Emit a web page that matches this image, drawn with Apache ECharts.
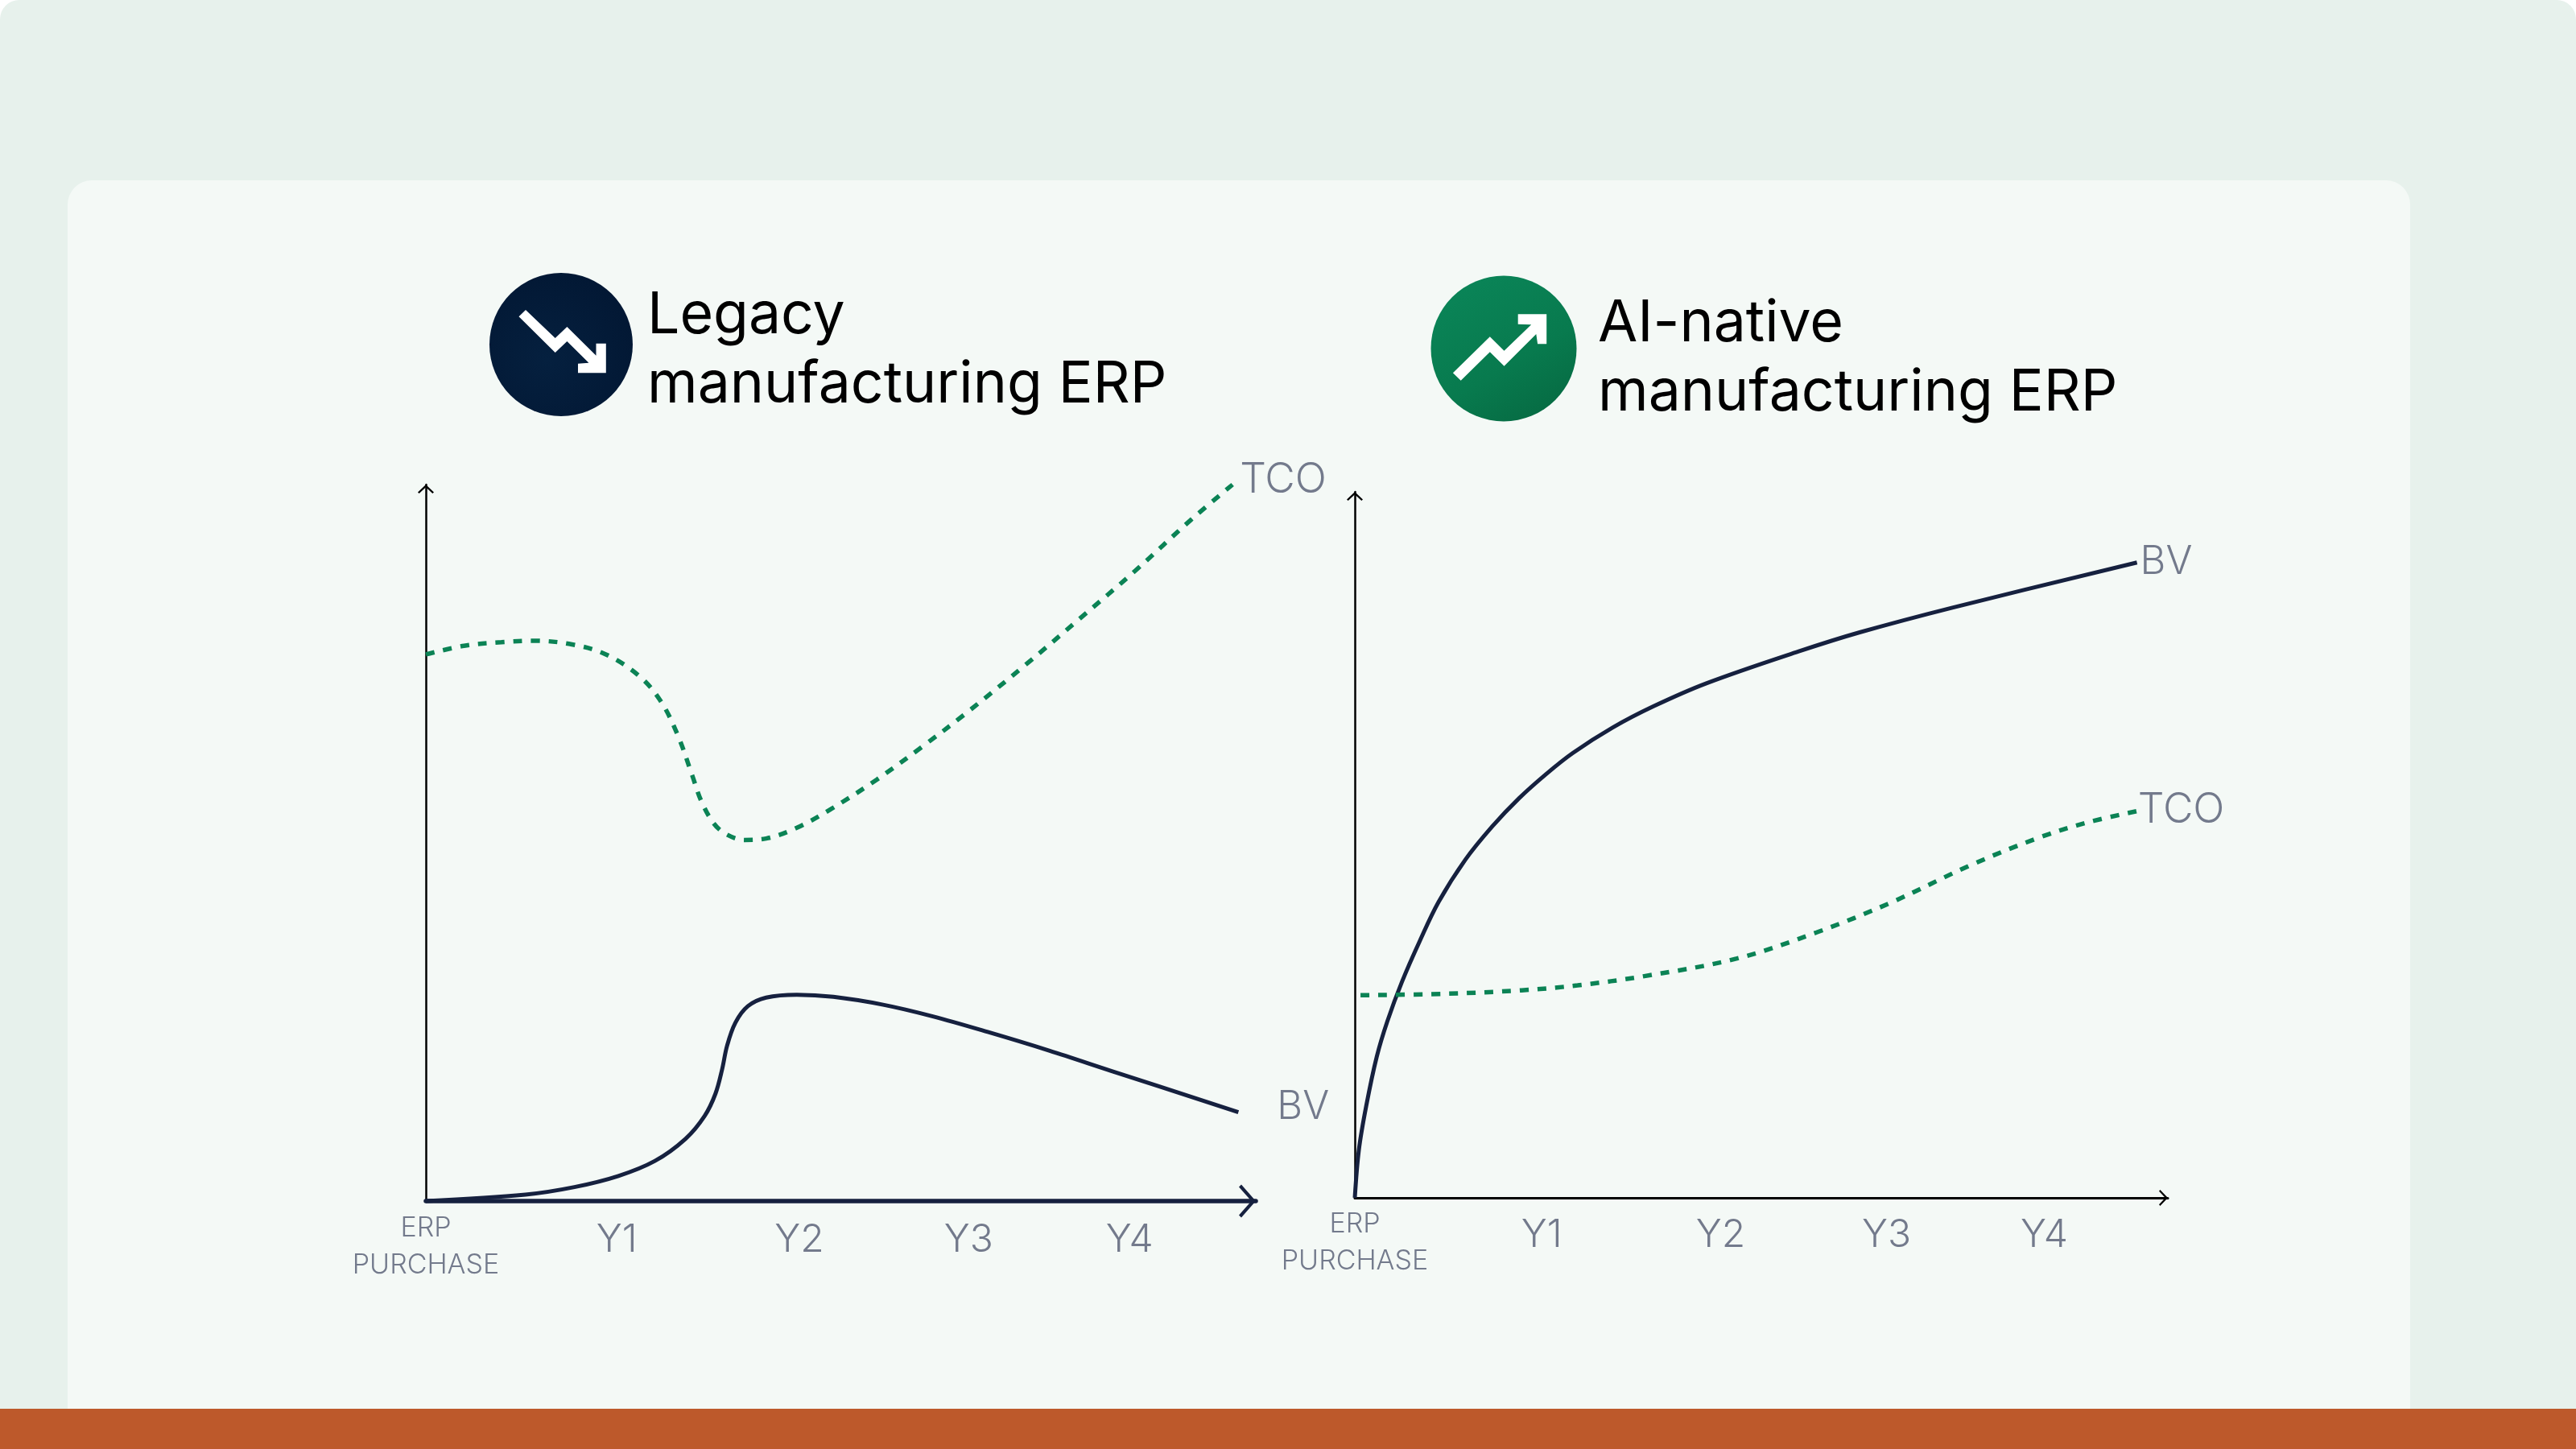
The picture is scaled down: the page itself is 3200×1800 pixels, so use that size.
<!DOCTYPE html>
<html>
<head>
<meta charset="utf-8">
<style>html,body{margin:0;padding:0;background:#fff}#chart{width:3200px;height:1800px}</style>
<script src="https://cdn.jsdelivr.net/npm/echarts@6/dist/echarts.min.js"></script>
</head>
<body>
<div id="chart"></div>
<script>
// Both panels share a 0-100 index on each axis: time runs along x, relative amount along y.
const xTicks = [0, 23, 45, 65.4, 84.8];
const xTickLabels = ['ERP PURCHASE', 'Y1', 'Y2', 'Y3', 'Y4'];

const legacyTCO = [[0,76.3],[4.6,77.5],[9.1,78.0],[13.1,78.2],[17.6,77.7],[21.7,76.3],[25.8,73.2],[28.4,69.6],[30.4,64.9],[32.1,59.4],[33.2,55.8],[34.7,52.7],[36.2,51.2],[38.4,50.4],[41.0,50.6],[44.7,52.1],[48.8,54.7],[54.3,58.8],[59.9,63.5],[65.1,68.1],[72.2,74.8],[78.8,81.3],[85.5,88.0],[92.2,95.1],[97.2,100]];
const legacyBV = [[0,0],[12.0,0.9],[17.9,1.95],[23.2,3.5],[27.6,5.6],[31.3,8.7],[33.6,11.9],[34.9,15.0],[35.7,18.4],[36.3,21.7],[37.3,24.9],[38.8,27.2],[41.0,28.4],[44.7,28.8],[49.1,28.5],[55.1,27.4],[61.0,25.8],[67.7,23.6],[75.1,21.0],[82.5,18.2],[97.9,12.4]];
const nativeBV = [[0,0],[0.5,6.8],[1.4,13.0],[2.7,20.0],[4.0,25.0],[5.8,30.6],[8.0,36.4],[10.3,41.9],[13.6,47.9],[16.9,52.6],[20.2,56.6],[23.5,60.0],[26.8,63.0],[31.7,66.6],[36.7,69.6],[43.3,72.9],[54.6,77.4],[62.1,80.1],[73.5,83.6],[96.2,90.0]];
const nativeTCO = [[0.7,28.7],[10.9,28.9],[20.5,29.4],[27.4,30.1],[35.6,31.4],[47.0,33.9],[56.8,37.6],[65.9,41.8],[75.7,47.1],[84.1,51.0],[90.2,53.2],[96.7,54.9]];

const NAVY = '#16213f', GREEN = '#0b8355', GREY = '#737a8c', FONT = 'Inter';

// Open chevron heads, pointing up before the axis rotates them.
const thinHead = 'path://M10 0L20 9.6L18.3 11L10 3.2L1.7 11L0 9.6Z';
const boldHead = 'path://M20.5 0L41 18L38 21L20.5 5.5L3 21L0 18Z';

function xAxisFor(grid, color, width, head, size, margin, yearPad) {
  return {
    type: 'value', gridIndex: grid, min: 0, max: 100, splitLine: {show: false},
    axisTick: {show: false},
    axisLine: {onZero: false, symbol: ['none', head], symbolSize: size, symbolOffset: [0, -size[1] / 2],
      lineStyle: {color: color, width: width}},
    axisLabel: {
      customValues: xTicks, margin: margin, hideOverlap: false, showMinLabel: true, showMaxLabel: true,
      color: GREY, fontFamily: FONT, fontWeight: 300, fontSize: 48, lineHeight: 60,
      formatter: function (v) {
        const label = xTickLabels[xTicks.indexOf(v)];
        return v === 0 ? '{s|' + label.split(' ').join('}\n{s|') + '}' : '{y|' + label + '}';
      },
      rich: {
        s: {fontSize: 34, lineHeight: 46, color: GREY, fontFamily: FONT, fontWeight: 300},
        y: {fontSize: 48, lineHeight: 60, color: GREY, fontFamily: FONT, fontWeight: 300, padding: [yearPad, 0, 0, 0]}
      }
    }
  };
}
function yAxisFor(grid) {
  return {
    type: 'value', gridIndex: grid, min: 0, max: 100, splitLine: {show: false},
    axisTick: {show: false}, axisLabel: {show: false},
    axisLine: {onZero: false, symbol: ['none', thinHead], symbolSize: [20, 11], symbolOffset: [0, -5.5],
      lineStyle: {color: '#000', width: 2.5}}
  };
}
function curve(name, data, axis, dashed, offset) {
  return {
    name: name, type: 'line', data: data, xAxisIndex: axis, yAxisIndex: axis,
    smooth: 0.35, showSymbol: false, symbol: 'none', clip: false, animation: false,
    lineStyle: dashed ? {color: GREEN, width: 5.5, type: [11, 11], cap: 'butt'} : {color: NAVY, width: 5},
    endLabel: {show: true, formatter: name, distance: 0, offset: offset, color: GREY,
      fontFamily: FONT, fontWeight: 300, fontSize: name === 'TCO' ? 51.5 : 49}
  };
}
function heading(text, x, y) {
  return {type: 'text', z: 5, x: x, y: y, style: {text: text, fill: '#000', font: '400 71.5px ' + FONT, lineHeight: 86}};
}

const chart = echarts.init(document.getElementById('chart'), null, {renderer: 'canvas'});
chart.setOption({
  animation: false,
  grid: [
    {left: 529, top: 602, width: 1031, height: 890},
    {left: 1683, top: 611, width: 1010, height: 877}
  ],
  xAxis: [
    xAxisFor(0, NAVY, 5.5, boldHead, [41, 21], 11, 16),
    xAxisFor(1, '#000', 3, thinHead, [20, 11], 10, 14)
  ],
  yAxis: [yAxisFor(0), yAxisFor(1)],
  series: [
    curve('TCO', legacyTCO, 0, true, [9, -5]),
    curve('BV', legacyBV, 0, false, [48, -6]),
    curve('BV', nativeBV, 1, false, [4, 0]),
    curve('TCO', nativeTCO, 1, true, [-4, 0])
  ],
  graphic: [
    {type: 'rect', z: -30, shape: {x: 0, y: 0, width: 3200, height: 1800, r: [24, 24, 0, 0]}, style: {fill: '#e7f1ec'}},
    {type: 'rect', z: -20, shape: {x: 84, y: 224, width: 2910, height: 1600, r: 30}, style: {fill: '#f4f9f6'}},
    {type: 'rect', z: -10, shape: {x: 0, y: 1750, width: 3200, height: 50}, style: {fill: '#bd592b'}},
    {type: 'circle', z: 1, shape: {cx: 697, cy: 428, r: 89},
      style: {fill: new echarts.graphic.RadialGradient(0.4, 0.6, 0.7, [{offset: 0, color: '#05203f'}, {offset: 1, color: '#021733'}])}},
    {type: 'polygon', z: 2, shape: {points: [[653,385],[689.7,420],[704.4,406],[740.5,441.7],[740.5,426.7],[752.8,426.7],[752.8,463.3],[718,463.3],[718,451.7],[731.4,450.7],[704.4,424],[689.7,438],[644.5,393.3]]}, style: {fill: '#fff'}},
    {type: 'circle', z: 1, shape: {cx: 1868, cy: 433, r: 90.5},
      style: {fill: new echarts.graphic.LinearGradient(0.2, 0, 0.8, 1, [{offset: 0, color: '#0a8558'}, {offset: 0.6, color: '#087a4e'}, {offset: 1, color: '#066a42'}])}},
    {type: 'polygon', z: 2, shape: {points: [[1804.9,463.3],[1850.8,418.3],[1868.5,435.7],[1902.2,403.3],[1885.7,402.7],[1885.7,390.3],[1921.2,390.3],[1921.2,427.3],[1910.1,427.3],[1908.3,415],[1868.5,454.7],[1850.8,437.3],[1814.7,472.7]]}, style: {fill: '#fff'}},
    heading('Legacy\nmanufacturing ERP', 804, 349),
    heading('AI-native\nmanufacturing ERP', 1985, 359)
  ]
});
</script>
</body>
</html>
